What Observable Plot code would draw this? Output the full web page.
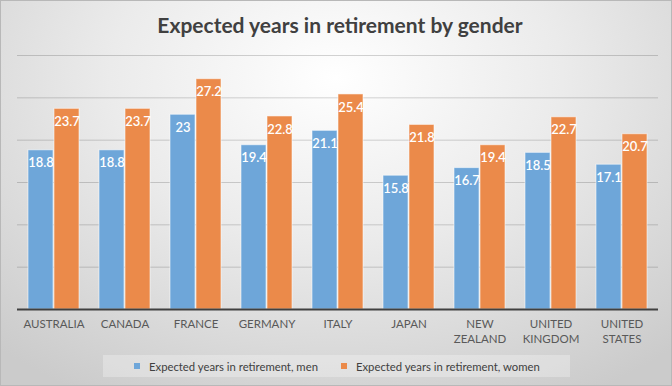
<!DOCTYPE html>
<html>
<head>
<meta charset="utf-8">
<script src="https://cdn.jsdelivr.net/npm/d3@7"></script>
<script src="https://cdn.jsdelivr.net/npm/@observablehq/plot@0.6"></script>
<style>
  html, body { margin: 0; padding: 0; }
  #chart {
    position: relative; width: 672px; height: 386px; box-sizing: border-box;
    border: 1px solid #b8b8b8;
    background: radial-gradient(ellipse 75% 95% at 50% 20%, #ffffff 0%, #ebebeb 45%, #cbcbcb 100%);
    font-family: Lato, "Open Sans", sans-serif; overflow: hidden;
  }
  #title {
    height: 49px; line-height: 48px; text-align: center; font-size: 21px; font-weight: 700;
    color: #404040; padding-left: 8px;
  }
  #plot { position: relative; width: 672px; height: 301px; }
  #plot svg { display: block; background: transparent; position: absolute; left: 0; top: 0; }
  #legend {
    position: absolute; left: 102px; top: 354px; width: 467px; height: 22px;
    background: rgba(255,255,255,0.28); display: flex; align-items: center;
    font-size: 11.3px; color: #404040;
  }
  .sw { display: inline-block; width: 6px; height: 6px; margin-right: 9px; }
  .item { display: flex; align-items: center; }
</style>
</head>
<body>
<div id="chart">
  <div id="title">Expected years in retirement by gender</div>
  <div id="plot"></div>
  <div id="legend"></div>
</div>
<script>
const countries = ["AUSTRALIA","CANADA","FRANCE","GERMANY","ITALY","JAPAN","NEW ZEALAND","UNITED KINGDOM","UNITED STATES"];
const men   = [18.8, 18.8, 23, 19.4, 21.1, 15.8, 16.7, 18.5, 17.1];
const women = [23.7, 23.7, 27.2, 22.8, 25.4, 21.8, 19.4, 22.7, 20.7];
const series = ["Expected years in retirement, men", "Expected years in retirement, women"];
const colors = ["#6ea6d9", "#eb8a4a"];
const yTicks = [5, 10, 15, 20, 25, 30];

const data = [];
countries.forEach((c, i) => {
  data.push({country: c, series: series[0], value: men[i]});
  data.push({country: c, series: series[1], value: women[i]});
});

const common = {
  width: 672,
  height: 301,
  marginTop: 5,
  marginBottom: 42,
  marginLeft: 16,
  marginRight: 15,
  style: {background: "transparent", fontFamily: "Lato, 'Open Sans', sans-serif"},
  y: {domain: [0, 30], axis: null}
};

// background grid (whole plot width)
const grid = Plot.plot({
  ...common,
  marks: [Plot.ruleY(yTicks, {stroke: "#000", strokeOpacity: 0.17})]
});

const main = Plot.plot({
  ...common,
  fx: {domain: countries, paddingInner: 0.255, paddingOuter: 0.1275, label: null},
  x: {domain: series, paddingInner: 0.03, paddingOuter: 0, axis: null},
  color: {domain: series, range: colors},
  marks: [
    Plot.barY(data, {fx: "country", x: "series", y: "value", fill: "series", stroke: "#fff", strokeOpacity: 0.55, strokeWidth: 1}),
    Plot.text(data, {fx: "country", x: "series", y: "value", text: d => String(d.value), dy: 13,
      fill: "white", fontSize: 13, fontWeight: 600}),
    Plot.axisFx({anchor: "bottom", tickSize: 0, tickPadding: 8, fontSize: 11.5, fill: "#595959", lineHeight: 1.3,
      tickFormat: d => d.replace(" ", "\n"), label: null})
  ]
});

// baseline on top
const base = Plot.plot({
  ...common,
  marks: [Plot.ruleY([0], {stroke: "#404040", strokeWidth: 2})]
});

const host = document.getElementById("plot");
host.appendChild(grid);
host.appendChild(main);
host.appendChild(base);

const legend = document.getElementById("legend");
series.forEach((s, i) => {
  const it = document.createElement("div");
  it.className = "item";
  it.style.marginLeft = i === 0 ? "31px" : "23px";
  it.innerHTML = `<span class="sw" style="background:${colors[i]}"></span><span>${s}</span>`;
  legend.appendChild(it);
});
</script>
</body>
</html>
